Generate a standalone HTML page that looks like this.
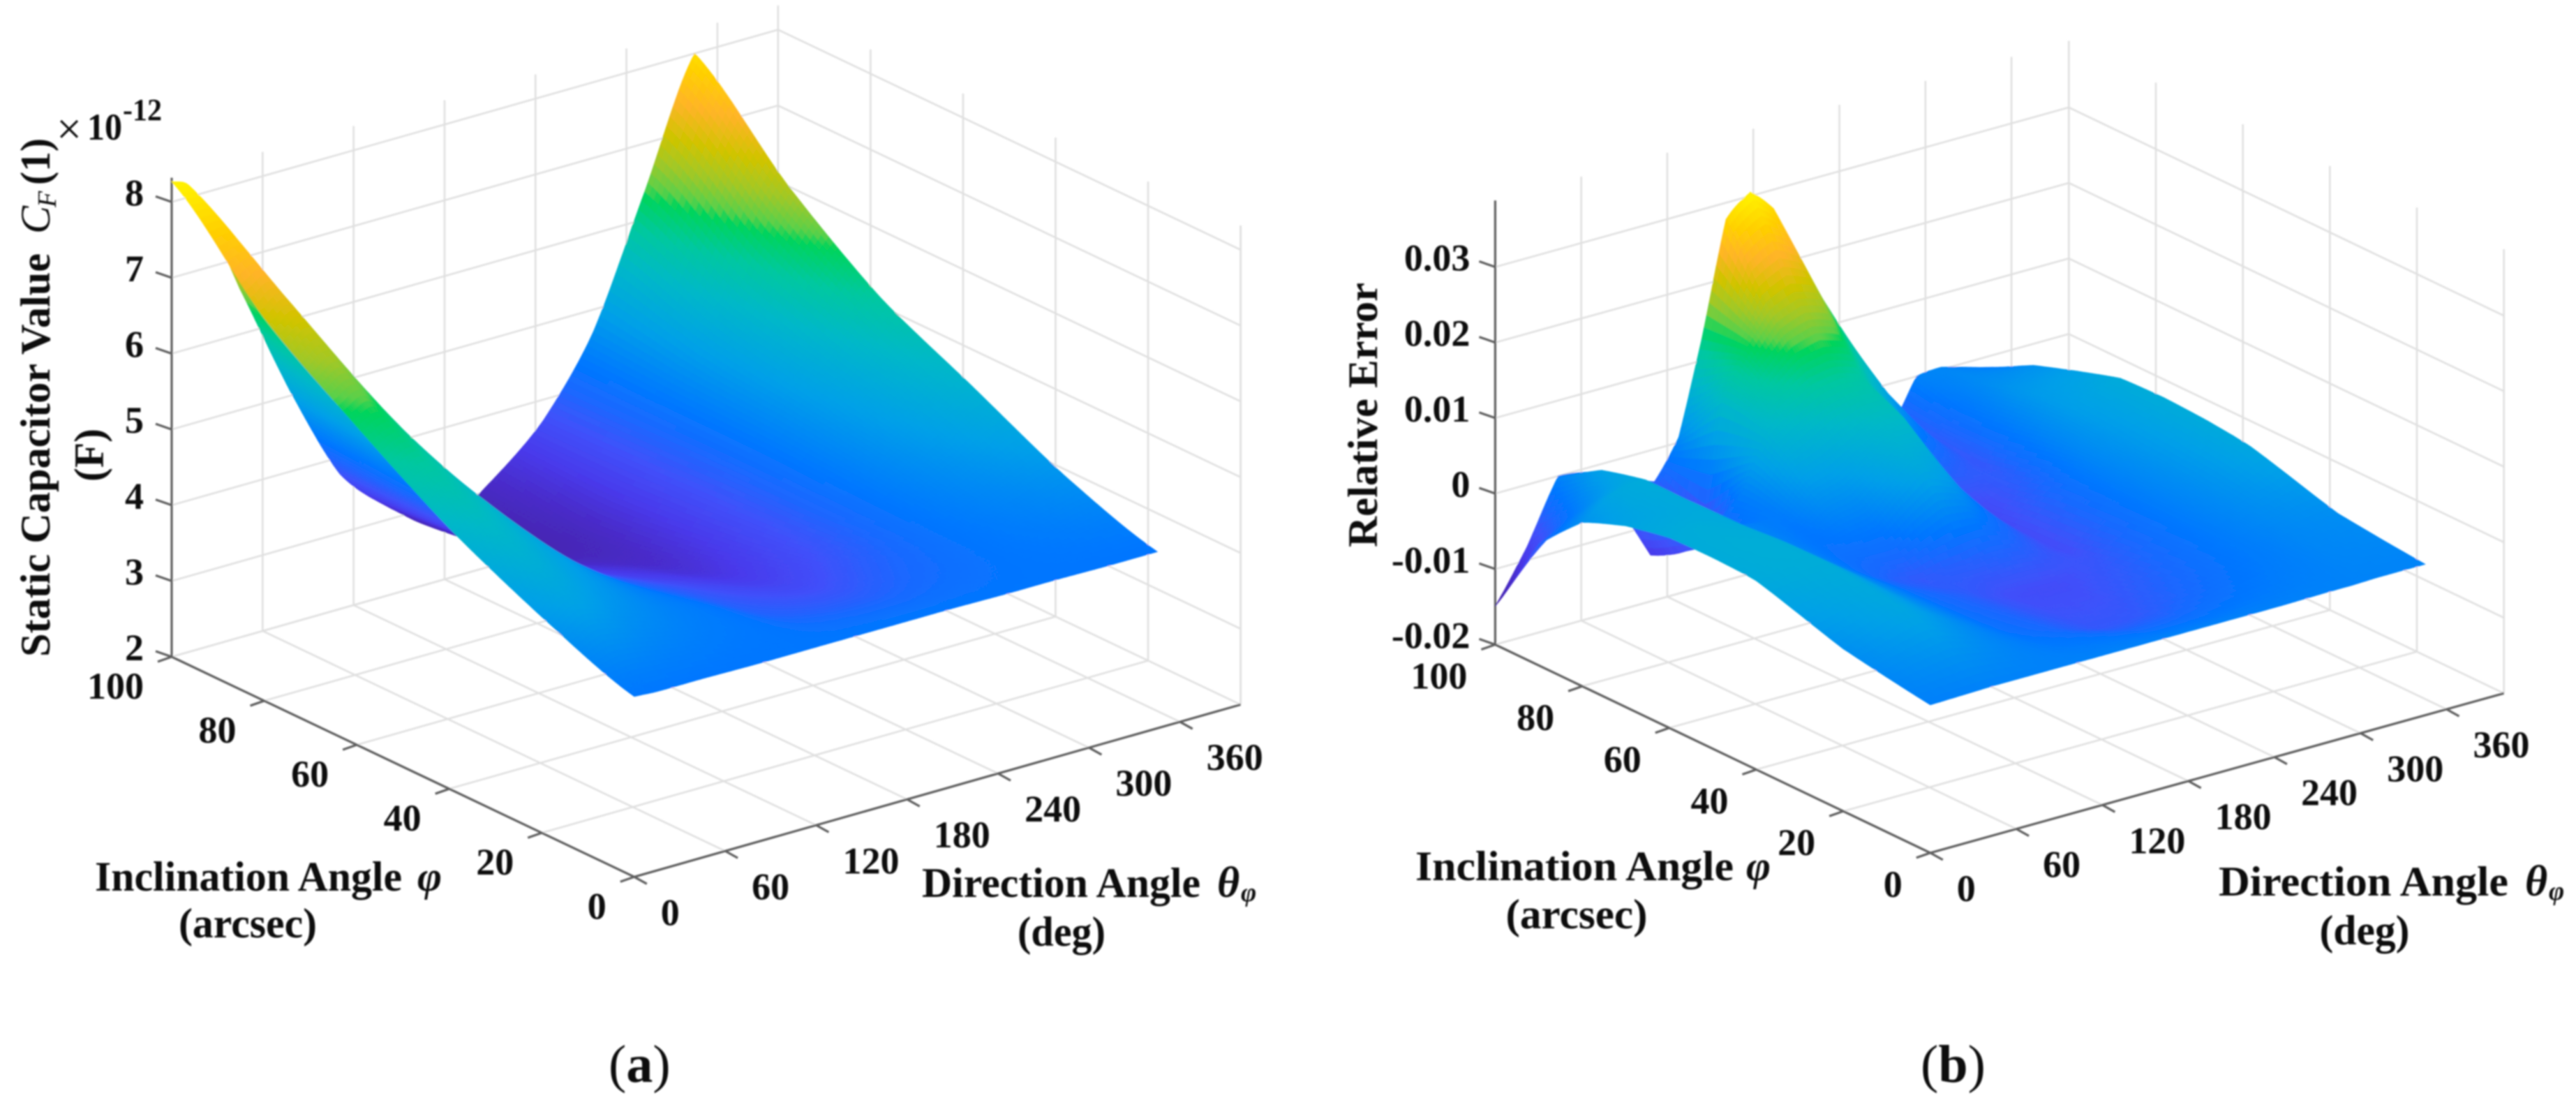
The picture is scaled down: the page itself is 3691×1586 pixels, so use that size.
<!DOCTYPE html>
<html lang="en">
<head>
<meta charset="utf-8">
<title>Static capacitor value and relative error surfaces</title>
<style>
html,body{margin:0;padding:0;background:#fff;}
svg{display:block;}
text{font-family:"Liberation Serif","DejaVu Serif",serif;fill:#111;}
.b{font-weight:bold;}
.i{font-style:italic;}
</style>
</head>
<body>
<svg id="fig" xmlns="http://www.w3.org/2000/svg" width="3691" height="1586" viewBox="0 0 3691 1586">
<defs><filter id="soft" filterUnits="userSpaceOnUse" x="0" y="0" width="3691" height="1586"><feGaussianBlur stdDeviation="1"/></filter></defs>
<rect width="3691" height="1586" fill="#fff"/>
<g filter="url(#soft)">
<g id="panelA"></g>
<g id="panelB"></g>

<g>
<g transform="translate(71,941) rotate(-90)">
<text class="b" font-size="60" x="0" y="0" textLength="578" lengthAdjust="spacingAndGlyphs">Static Capacitor Value</text>
<text class="i" font-size="60" x="606" y="0">C</text>
<text class="i" font-size="38" x="644" y="9">F</text>
<text class="b" font-size="60" x="676" y="0" textLength="67" lengthAdjust="spacingAndGlyphs">(1)</text>
</g>
<text class="b" font-size="60" transform="translate(148,690) rotate(-90)" textLength="76" lengthAdjust="spacingAndGlyphs">(F)</text>
<text font-size="64" x="81" y="206">×</text>
<text class="b" font-size="54" x="125" y="200" textLength="50" lengthAdjust="spacingAndGlyphs">10</text>
<text class="b" font-size="44" x="176" y="172" textLength="56" lengthAdjust="spacingAndGlyphs">-12</text>
<text class="b" font-size="60" x="136" y="1276" textLength="440" lengthAdjust="spacingAndGlyphs">Inclination Angle</text>
<text class="b i" font-size="60" x="598" y="1276">φ</text>
<text class="b" font-size="60" x="355" y="1343" text-anchor="middle" textLength="198" lengthAdjust="spacingAndGlyphs">(arcsec)</text>
<text class="b" font-size="60" x="1321" y="1285" textLength="399" lengthAdjust="spacingAndGlyphs">Direction Angle</text>
<text class="b i" font-size="62" x="1744" y="1285">θ</text>
<text class="b i" font-size="38" x="1778" y="1291" fill="#135">φ</text>
<text class="b" font-size="60" x="1521" y="1355" text-anchor="middle" textLength="126" lengthAdjust="spacingAndGlyphs">(deg)</text>
<text font-size="76" x="872" y="1550">(<tspan class="b">a</tspan>)</text>
</g>

<g>
<text class="b" font-size="60" transform="translate(1973,784) rotate(-90)" textLength="379" lengthAdjust="spacingAndGlyphs">Relative Error</text>
<text class="b" font-size="60" x="2028" y="1261" textLength="456" lengthAdjust="spacingAndGlyphs">Inclination Angle</text>
<text class="b i" font-size="60" x="2502" y="1261">φ</text>
<text class="b" font-size="60" x="2259" y="1330" text-anchor="middle" textLength="203" lengthAdjust="spacingAndGlyphs">(arcsec)</text>
<text class="b" font-size="60" x="3179" y="1283" textLength="415" lengthAdjust="spacingAndGlyphs">Direction Angle</text>
<text class="b i" font-size="62" x="3618" y="1283">θ</text>
<text class="b i" font-size="38" x="3652" y="1289" fill="#135">φ</text>
<text class="b" font-size="60" x="3388" y="1353" text-anchor="middle" textLength="129" lengthAdjust="spacingAndGlyphs">(deg)</text>
<text font-size="76" x="2752" y="1550">(<tspan class="b">b</tspan>)</text>
</g>
</g>
</svg>

<script>
// ---- shared tick data ----
const thetaTicks = [0,60,120,180,240,300,360];
const thetaTickLabels = ['0','60','120','180','240','300','360'];
const phiTicks = [0,20,40,60,80,100];
const phiTickLabels = ['0','20','40','60','80','100'];

// ---- panel (a): static capacitor value, units of 1e-12 F ----
const zTicksA = [2,3,4,5,6,7,8];
const zTickLabelsA = ['2','3','4','5','6','7','8'];
const thetaA = [0,15,45,78,111,145,178,211,245,278,312,345];
const phiA = [0,20,40,60,80,100];
const zA_phi0   = [4.38,4.36,4.36,4.35,4.35,4.35,4.35,4.35,4.34,4.34,4.33,4.33];
const zA_phi20  = [4.85,5.05,4.80,4.55,4.35,4.05,3.95,3.95,4.12,4.35,4.55,4.75];
const zA_phi40  = [5.44,5.62,5.20,4.60,4.12,3.85,3.65,3.55,3.88,4.45,4.90,5.35];
const zA_phi60  = [6.20,6.30,5.60,4.65,3.92,3.50,3.30,3.20,3.80,4.55,5.20,5.95];
const zA_phi80  = [7.05,7.20,6.10,4.85,3.80,3.25,2.90,3.00,3.75,4.60,5.60,6.85];
const zA_phi100 = [8.27,8.03,6.60,5.07,3.78,3.13,2.71,3.12,3.72,4.70,6.36,8.00];
const surfaceA = [zA_phi0,zA_phi20,zA_phi40,zA_phi60,zA_phi80,zA_phi100];

// ---- panel (b): relative error, units of 0.01 ----
const zTicksB = [-2,-1,0,1,2,3];
const zTickLabelsB = ['-0.02','-0.01','0','0.01','0.02','0.03'];
const thetaB = [0,22,44,78,111,128,144,161,178,194,211,244,278,294,311,345];
const phiB = [0,20,40,50,60,70,80,90,100];
const zB_phi0   = [-0.04,-0.03,-0.02,-0.02,-0.02,-0.02,-0.02,-0.02,-0.02,-0.02,-0.02,-0.02,-0.01,-0.01,0,0];
const zB_phi20  = [0.15,0.30,0.42,0.10,-0.20,-0.28,-0.35,-0.45,-0.53,-0.53,-0.50,-0.32,-0.12,-0.05,0.05,0.12];
const zB_phi40  = [0.50,0.55,0.55,0.10,-0.25,-0.36,-0.45,-0.56,-0.64,-0.66,-0.66,-0.52,-0.18,0.00,0.15,0.45];
const zB_phi50  = [0.53,0.57,0.55,0.08,-0.30,-0.45,-0.52,-0.45,-0.42,-0.35,-0.40,-0.66,-0.20,0.02,0.20,0.52];
const zB_phi60  = [0.52,0.55,0.50,0.05,-0.20,-0.15,-0.10,0.20,0.45,0.30,-0.10,-0.68,-0.25,0.05,0.25,0.55];
const zB_phi70  = [0.40,0.45,0.50,0.00,-0.10,0.25,0.35,0.55,0.75,0.80,0.20,-0.72,-0.42,0.00,0.30,0.53];
const zB_phi80  = [0.17,0.45,0.50,-0.60,-0.05,0.70,0.95,1.15,1.20,1.10,0.60,-0.30,-0.55,-0.10,0.25,0.35];
const zB_phi90  = [-0.40,-0.15,0.35,-0.95,-1.00,0.80,1.40,1.85,2.00,1.90,1.30,0.30,-0.50,-0.15,0.10,0.15];
const zB_phi100 = [-1.49,-0.83,0.00,-0.12,-0.43,0.07,1.28,2.78,3.05,2.75,2.00,0.62,-0.50,0.00,0.03,-0.15];
const surfaceB = [zB_phi0,zB_phi20,zB_phi40,zB_phi50,zB_phi60,zB_phi70,zB_phi80,zB_phi90,zB_phi100];

// ---- colour ramp (normalised height -> rgb) ----
const rampStops = [0,0.08,0.13,0.19,0.25,0.3,0.4,0.5,0.58,0.648,0.668,0.72,0.78,0.85,0.92,1];
const rampColors = [[70,35,165],[72,45,205],[72,58,235],[65,80,250],[26,105,255],[0,120,255],[0,160,232],[0,184,200],[0,200,160],[0,212,92],[90,208,74],[160,200,40],[208,196,0],[255,180,40],[255,208,0],[255,245,0]];

const NS = 'http://www.w3.org/2000/svg';
function rampColor(t){
  t = Math.max(0,Math.min(1,t));
  let i = 0;
  while(i < rampStops.length-2 && t > rampStops[i+1]) i++;
  const f = (t-rampStops[i])/(rampStops[i+1]-rampStops[i]);
  const c = rampColors[i].map((v,k)=>Math.round(v+(rampColors[i+1][k]-v)*f));
  return 'rgb('+c.join(',')+')';
}
function make(tag,attrs,parent){
  const e = document.createElementNS(NS,tag);
  for(const k in attrs) e.setAttribute(k,attrs[k]);
  parent.appendChild(e);
  return e;
}
function cr(p0,p1,p2,p3,t,s){
  const c = 0.5*(2*p1+(p2-p0)*t+(2*p0-5*p1+4*p2-p3)*t*t+(3*p1-p0-3*p2+p3)*t*t*t);
  const l = p1+(p2-p1)*t;
  return l+(c-l)*s;
}
function sampleGrid(grid,v,u,s){
  const nr = grid.length, nc = grid[0].length;
  const r = Math.min(Math.floor(v),nr-2), c = Math.min(Math.floor(u),nc-2);
  const fr = v-r, fc = u-c, col = [];
  for(let k=-1;k<=2;k++){
    const row = grid[Math.max(0,Math.min(nr-1,r+k))];
    col.push(cr(row[Math.max(0,c-1)],row[c],row[c+1],row[Math.min(nc-1,c+2)],fc,s));
  }
  return cr(col[0],col[1],col[2],col[3],fr,s);
}
function lerpArr(a,x){
  const i = Math.min(Math.floor(x),a.length-2);
  return a[i]+(a[i+1]-a[i])*(x-i);
}

function drawPanel(cfg){
  const g = cfg.root;
  const px = (th,ph,z)=>cfg.F[0]+(cfg.R[0]-cfg.F[0])*th/400+(cfg.L[0]-cfg.F[0])*ph/100;
  const py = (th,ph,z)=>cfg.F[1]+(cfg.R[1]-cfg.F[1])*th/400+(cfg.L[1]-cfg.F[1])*ph/100-(z-cfg.z0)*cfg.zs;

  const gridG = make('g',{stroke:'#e0e0e0','stroke-width':2.6,fill:'none'},g);
  
  
  function gridLine(a,b){
    const l = make('line',{x1:px(a[0],a[1],a[2]),y1:py(a[0],a[1],a[2]),x2:px(b[0],b[1],b[2]),y2:py(b[0],b[1],b[2])},gridG);
    
    
  }
  thetaTicks.forEach(t=>{
    gridLine([t,0,cfg.z0],[t,100,cfg.z0]);
    gridLine([t,100,cfg.z0],[t,100,cfg.zTop]);
  });
  phiTicks.forEach(p=>{
    gridLine([0,p,cfg.z0],[400,p,cfg.z0]);
    gridLine([400,p,cfg.z0],[400,p,cfg.zTop]);
  });
  gridLine([400,100,cfg.z0],[400,100,cfg.zTop]);
  gridLine([400,0,cfg.z0],[400,0,cfg.zTop]);
  cfg.zTicks.forEach(z=>{
    gridLine([0,100,z],[400,100,z]);
    gridLine([400,100,z],[400,0,z]);
  });

  const axG = make('g',{stroke:'#5f5f5f','stroke-width':3.2,fill:'none'},g);
  
  
  function axisLine(x1,y1,x2,y2,name){
    const l = make('line',{x1:x1,y1:y1,x2:x2,y2:y2},axG);
    
    
  }
  axisLine(px(0,0,cfg.z0),py(0,0,cfg.z0),px(400,0,cfg.z0),py(400,0,cfg.z0),'theta-axis-line');
  axisLine(px(0,0,cfg.z0),py(0,0,cfg.z0),px(0,100,cfg.z0),py(0,100,cfg.z0),'phi-axis-line');
  axisLine(px(0,100,cfg.z0),py(0,100,cfg.z0),px(0,100,cfg.zTop),py(0,100,cfg.zTop),'z-axis-line');

  const lab = make('g',{'font-weight':'bold','font-size':54},g);
  
  
  function tickLabel(x,y,txt,anchor,name){
    const t = make('text',{x:x,y:y,'text-anchor':anchor},lab);
    t.textContent = txt;
    
    
  }
  thetaTicks.forEach((t,i)=>{
    const x = px(t,0,cfg.z0), y = py(t,0,cfg.z0);
    axisLine(x,y,x+18,y+10,'theta-tick');
    tickLabel(x+38,y+cfg.thLabelDy,thetaTickLabels[i],'start','theta-tick-label');
  });
  phiTicks.forEach((p,i)=>{
    const x = px(0,p,cfg.z0), y = py(0,p,cfg.z0);
    axisLine(x,y,x-20,y+7,'phi-tick');
    tickLabel(x-40,y+cfg.phLabelDy,phiTickLabels[i],'end','phi-tick-label');
  });
  cfg.zTicks.forEach((z,i)=>{
    const x = px(0,100,z), y = py(0,100,z);
    axisLine(x,y,x-23,y-8,'z-tick');
    tickLabel(x-cfg.zLabelDx,y+5,cfg.zLabels[i],'end','z-tick-label');
  });

  let mn = Infinity, mx = -Infinity;
  cfg.grid.forEach(r=>r.forEach(v=>{ if(v<mn) mn=v; if(v>mx) mx=v; }));

  const surf = make('g',{'stroke-width':0.9},g);
  
  
  const ss = cfg.ss, ps = cfg.ps;
  const nU = (cfg.thetas.length-1)*ss, nV = (cfg.phis.length-1)*ps;
  const P = [];
  for(let iv=0;iv<=nV;iv++){
    const row = [], v = iv/ps, ph = lerpArr(cfg.phis,v);
    for(let iu=0;iu<=nU;iu++){
      const u = iu/ss, th = lerpArr(cfg.thetas,u), z = sampleGrid(cfg.grid,v,u,cfg.smooth);
      row.push([px(th,ph,z),py(th,ph,z),z]);
    }
    P.push(row);
  }
  for(let iv=nV-1;iv>=0;iv--){
    for(let iu=nU-1;iu>=0;iu--){
      const a=P[iv][iu], b=P[iv][iu+1], c=P[iv+1][iu+1], d=P[iv+1][iu];
      const col = rampColor(((a[2]+b[2]+c[2]+d[2])/4-mn)/(mx-mn));
      const poly = make('polygon',{points:[a,b,c,d].map(q=>q[0].toFixed(1)+','+q[1].toFixed(1)).join(' '),fill:col,stroke:col},surf);
      
      
    }
  }
}

drawPanel({
  root:document.getElementById('panelA'),
  F:[908.8,1256.3],R:[1777.6,1009.5],L:[246,941],
  z0:2,zTop:8.32,zs:108.6,
  zTicks:zTicksA,zLabels:zTickLabelsA,
  thetas:thetaA,phis:phiA,grid:surfaceA,smooth:0.75,ss:16,ps:20,
  thLabelDy:69,phLabelDy:60,zLabelDx:40,
  surfaceName:'capacitor-surface'
});
drawPanel({
  root:document.getElementById('panelB'),
  F:[2765.8,1221.9],R:[3587.7,993.3],L:[2142.4,923.5],
  z0:-2,zTop:3.88,zs:108.2,
  zTicks:zTicksB,zLabels:zTickLabelsB,
  thetas:thetaB,phis:phiB,grid:surfaceB,smooth:0.25,ss:10,ps:12,
  thLabelDy:69,phLabelDy:63,zLabelDx:36,
  surfaceName:'relative-error-surface'
});
</script>
</body>
</html>
